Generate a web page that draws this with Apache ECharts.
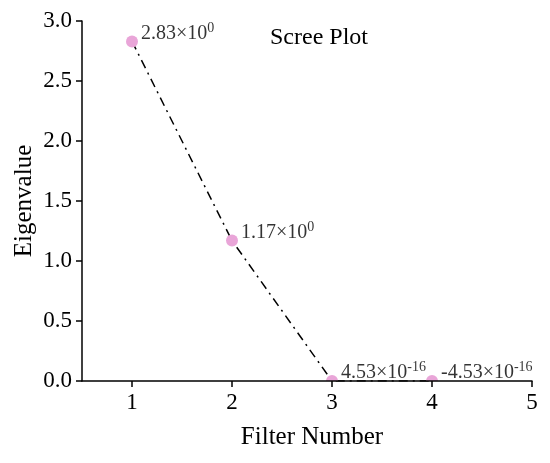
<!DOCTYPE html>
<html>
<head>
<meta charset="utf-8">
<script src="https://cdn.jsdelivr.net/npm/echarts@6/dist/echarts.min.js"></script>
<style>html,body{margin:0;padding:0;background:#fff}#c{width:550px;height:463px}</style>
</head>
<body>
<div id="c"></div>
<script>
const filterNumbers = [1, 2, 3, 4];
const eigenvalues = [2.83, 1.17, 4.53e-16, -4.53e-16];
const xTicks = [1, 2, 3, 4, 5];

const FONT = '"Liberation Serif", "Times New Roman", serif';
const points = filterNumbers.map((x, i) => [x, eigenvalues[i]]);

function sciLabel(v) {
  const s = v.toExponential(2);
  const parts = s.split('e');
  const exp = parseInt(parts[1], 10);
  return '{m|' + parts[0] + '×10}{s|' + exp + '}';
}

const chart = echarts.init(document.getElementById('c'), null, {renderer: 'canvas'});
chart.setOption({
  animation: false,
  backgroundColor: '#fff',
  title: {
    text: 'Scree Plot', left: 265, top: 21,
    textStyle: {fontFamily: FONT, fontSize: 24, fontWeight: 'normal', color: '#000'}
  },
  grid: {left: 82, right: 18, top: 21, bottom: 82, containLabel: false, outerBoundsMode: 'none'},
  xAxis: {
    type: 'value', min: 0.5, max: 5, z: 10,
    name: 'Filter Number', nameLocation: 'middle', nameGap: 44, nameMoveOverlap: false,
    nameTextStyle: {fontFamily: FONT, fontSize: 25, color: '#000', padding: [0, 0, 0, 10]},
    axisLine: {show: true, lineStyle: {color: '#000', width: 1.5}},
    axisTick: {show: true, length: 6, customValues: xTicks, lineStyle: {color: '#000', width: 1.5}},
    axisLabel: {customValues: xTicks, fontFamily: FONT, fontSize: 23, color: '#000', margin: 10},
    splitLine: {show: false}
  },
  yAxis: {
    type: 'value', min: 0, max: 3, interval: 0.5, z: 10,
    name: 'Eigenvalue', nameLocation: 'middle', nameGap: 45, nameMoveOverlap: false,
    nameTextStyle: {fontFamily: FONT, fontSize: 25, color: '#000'},
    axisLine: {show: true, lineStyle: {color: '#000', width: 1.5}},
    axisTick: {show: true, length: 6, lineStyle: {color: '#000', width: 1.5}},
    axisLabel: {fontFamily: FONT, fontSize: 23, color: '#000', margin: 10,
      formatter: v => v.toFixed(1)},
    splitLine: {show: false}
  },
  series: [
    {
      type: 'line', data: points, showSymbol: false, symbol: 'none',
      lineStyle: {color: '#000', width: 1.5, type: [9, 5, 2, 5]}, z: 2
    },
    {
      type: 'custom', data: points, clip: true, z: 3,
      renderItem: function (params, api) {
        const c = api.coord([api.value(0), api.value(1)]);
        return {
          type: 'circle',
          shape: {cx: c[0], cy: c[1], r: 6},
          style: {fill: '#E9A5D8'}
        };
      }
    },
    {
      type: 'scatter', data: points, clip: false, symbolSize: 0,
      itemStyle: {color: 'transparent'}, z: 4, silent: true,
      label: {
        show: true, position: 'right', distance: 9, offset: [0, -8], color: '#000',
        formatter: p => sciLabel(p.value[1]),
        rich: {
          m: {fontFamily: FONT, fontSize: 20, color: '#000'},
          s: {fontFamily: FONT, fontSize: 14, color: '#000', verticalAlign: 'top', padding: [0, 0, 11, 0]}
        }
      }
    }
  ]
});
</script>
</body>
</html>
